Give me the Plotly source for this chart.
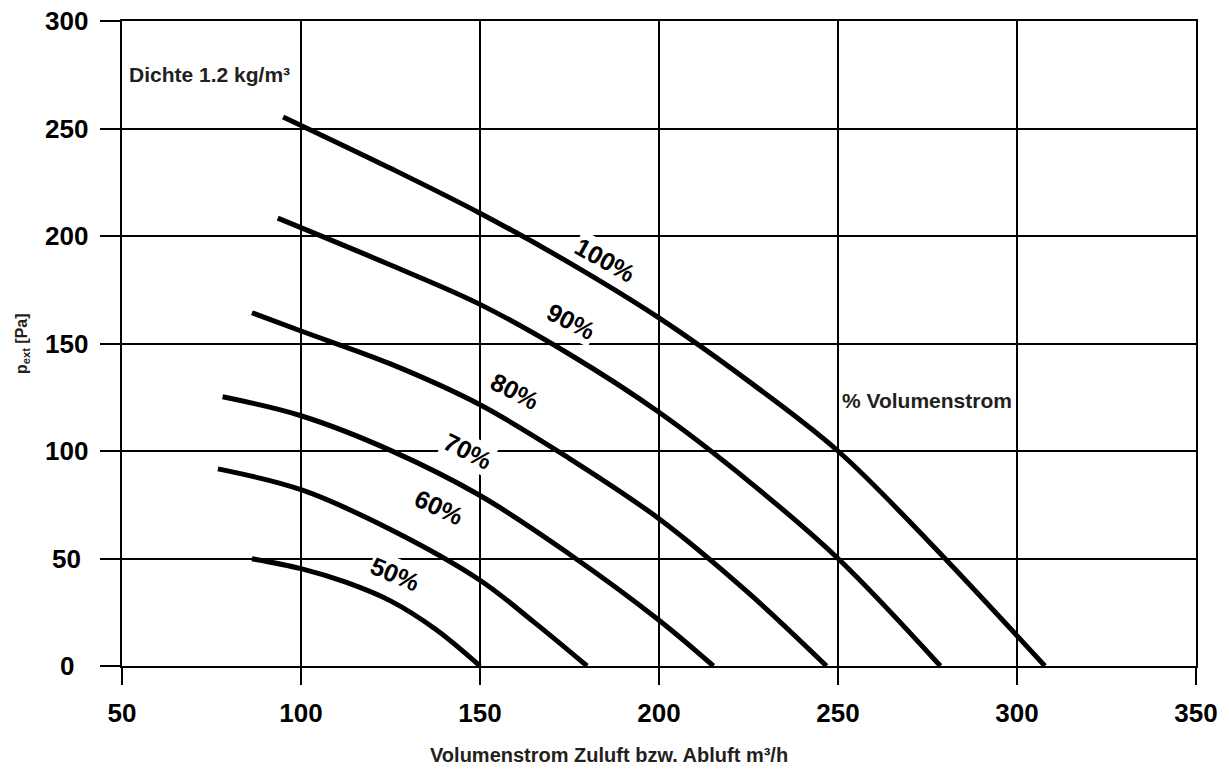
import plotly.graph_objects as go

# Curve data (x: Volumenstrom m³/h, y: p_ext Pa)
x100 = [95, 125, 150, 175, 200, 225, 250, 275, 307.8]
y100 = [255.4, 231.5, 210.6, 187.5, 161.9, 132.5, 100, 58.5, 0]

x90 = [93.5, 125, 150, 175, 200, 225, 250, 278.6]
y90 = [208.3, 186.5, 168.2, 145, 118, 86, 50, 0]

x80 = [86.3, 100, 125, 150, 175, 200, 225, 246.8]
y80 = [164.3, 155.8, 140.5, 121.5, 96.5, 68.5, 34, 0]

x70 = [78.1, 100, 125, 150, 175, 200, 215.2]
y70 = [125.2, 116.4, 100.3, 79.3, 52, 21.3, 0]

x60 = [76.8, 100, 125, 150, 165, 179.9]
y60 = [91.7, 82.0, 63.5, 39.9, 20.5, 0]

x50 = [86.3, 100, 112.5, 125, 137.5, 150]
y50 = [49.9, 45.3, 39.0, 30.3, 17.2, 0]

curve_labels = ["100%", "90%", "80%", "70%", "60%", "50%"]
label_x = [185.0, 175.3, 159.7, 146.6, 138.5, 126.3]
label_y = [188.7, 160.4, 128.0, 100.1, 73.9, 42.7]
label_angle = [29, 27, 27, 27, 25, 23]

x_ticks = [50, 100, 150, 200, 250, 300, 350]
y_ticks = [0, 50, 100, 150, 200, 250, 300]

FONT = "Liberation Sans, Arial, sans-serif"
TXT = "#231f20"

fig = go.Figure()
for xs, ys in [(x100, y100), (x90, y90), (x80, y80), (x70, y70), (x60, y60), (x50, y50)]:
    fig.add_trace(go.Scatter(x=xs, y=ys, mode="lines",
                             line=dict(color="black", width=5, shape="spline", smoothing=1.0),
                             showlegend=False, hoverinfo="skip"))

annotations = []
for t, lx, ly, ang in zip(curve_labels, label_x, label_y, label_angle):
    annotations.append(dict(x=lx, y=ly, xref="x", yref="y", text=t, showarrow=False,
                            textangle=ang, bgcolor="white", borderpad=1,
                            font=dict(family=FONT, size=25, color="black", weight="bold")))

# y tick labels (centered, as in the reference)
for v in y_ticks:
    annotations.append(dict(x=-0.0514, y=v, xref="paper", yref="y", text=str(v), showarrow=False,
                            xanchor="center", yanchor="middle",
                            font=dict(family=FONT, size=26, color="black", weight="bold")))

annotations.append(dict(x=51.5, y=274.9, xref="x", yref="y", text="Dichte 1.2 kg/m³",
                        showarrow=False, xanchor="left", yanchor="middle",
                        font=dict(family=FONT, size=21, color=TXT, weight="bold")))
annotations.append(dict(x=250.5, y=123.3, xref="x", yref="y", text="% Volumenstrom",
                        showarrow=False, xanchor="left", yanchor="middle",
                        font=dict(family=FONT, size=21, color=TXT, weight="bold")))
annotations.append(dict(x=0.4534, y=-0.1375, xref="paper", yref="paper",
                        text="Volumenstrom Zuluft bzw. Abluft m³/h",
                        showarrow=False, xanchor="center", yanchor="middle",
                        font=dict(family=FONT, size=20, color=TXT, weight="bold")))
annotations.append(dict(x=-0.0932, y=0.5005, xref="paper", yref="paper",
                        text="p<sub>ext</sub> [Pa]", textangle=-90,
                        showarrow=False, xanchor="center", yanchor="middle",
                        font=dict(family=FONT, size=16, color=TXT, weight="bold")))

fig.update_layout(
    width=1221, height=761,
    margin=dict(l=114, r=31, t=11, b=103),
    paper_bgcolor="white", plot_bgcolor="white",
    annotations=annotations,
    xaxis=dict(range=[50, 350], tickvals=x_ticks, ticktext=[str(v) for v in x_ticks],
               showgrid=True, gridcolor="black", gridwidth=1.5,
               showline=True, linecolor="black", linewidth=1.5, mirror=True,
               ticks="outside", ticklen=17, tickwidth=1.5, tickcolor="black",
               zeroline=False,
               tickfont=dict(family=FONT, size=26, color="black", weight="bold"),
               ticklabelstandoff=6),
    yaxis=dict(range=[0, 300], tickvals=y_ticks, showticklabels=False,
               showgrid=True, gridcolor="black", gridwidth=1.5,
               showline=True, linecolor="black", linewidth=1.5, mirror=True,
               ticks="outside", ticklen=20, tickwidth=1.5, tickcolor="black",
               zeroline=False),
)

fig.write_html("out.html")
